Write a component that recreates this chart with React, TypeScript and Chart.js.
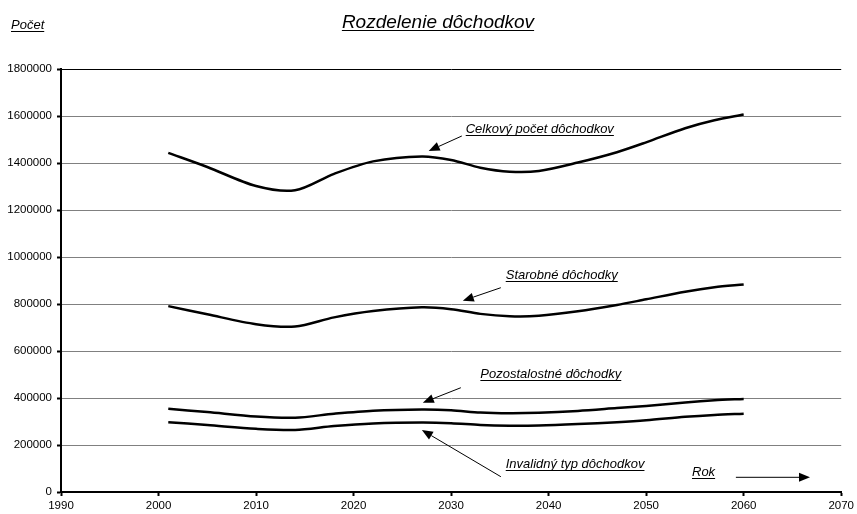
import React, { useEffect, useRef } from "react";
import { Chart, registerables } from "chart.js";

Chart.register(...registerables);

// Years sampled for every series
const years = [2001, 2005, 2010, 2014, 2018, 2022, 2027, 2030, 2033, 2036, 2039, 2043, 2047, 2050, 2054, 2057, 2060];

// Number of pensions by type
const celkovyPocet = [1443000, 1383000, 1302000, 1284000, 1354000, 1407000, 1428000, 1413000, 1380000, 1363000, 1366000, 1402000, 1446000, 1488000, 1548000, 1582000, 1606000];
const starobne = [791000, 756000, 714000, 704000, 743000, 770000, 786000, 778000, 758000, 748000, 750000, 769000, 796000, 820000, 852000, 871000, 883000];
const pozostalostne = [354000, 340000, 321000, 316000, 333000, 346000, 351000, 348000, 338000, 335000, 337000, 345000, 357000, 366000, 381000, 390000, 396000];
const invalidne = [297000, 285000, 269000, 264000, 281000, 292000, 296000, 293000, 285000, 282000, 283000, 289000, 297000, 305000, 320000, 328000, 333000];

const seriesNames = ["Celkový počet dôchodkov", "Starobné dôchodky", "Pozostalostné dôchodky", "Invalidný typ dôchodkov"];
const seriesValues = [celkovyPocet, starobne, pozostalostne, invalidne];

// Axis range and tick spacing
const xMin = 1990;
const xMax = 2070;
const xStep = 10;
const yMin = 0;
const yMax = 1800000;
const yStep = 200000;

const title = "Rozdelenie dôchodkov";
const yTitle = "Počet";
const xTitle = "Rok";

// Callout labels with arrows, placed in data coordinates: [year, value]
const callouts = [
  { text: seriesNames[0], at: [2031.5, 1527600], from: [2031.1, 1514900], to: [2027.7, 1451100] },
  { text: seriesNames[1], at: [2035.6, 906400], from: [2035.1, 869400], to: [2031.2, 814000] },
  { text: seriesNames[2], at: [2033.0, 485100], from: [2031.0, 443800], to: [2027.1, 380000] },
  { text: seriesNames[3], at: [2035.6, 102100], from: [2035.1, 65100], to: [2027.0, 263800] },
];
const xTitleAt = [2054.7, 68100];
const xArrow = { from: [2059.2, 62550], to: [2066.8, 62550] };

const FONT = "'Liberation Sans', Arial, sans-serif";

function underlinedText(ctx: CanvasRenderingContext2D, text: string, x: number, y: number, size: number, align: "left" | "center") {
  ctx.save();
  ctx.font = `italic ${size}px ${FONT}`;
  ctx.fillStyle = "#000";
  ctx.textAlign = align;
  ctx.textBaseline = "alphabetic";
  ctx.fillText(text, x, y);
  const w = ctx.measureText(text).width;
  const x0 = align === "center" ? x - w / 2 : x;
  ctx.strokeStyle = "#000";
  ctx.lineWidth = 1;
  ctx.beginPath();
  ctx.moveTo(x0, Math.round(y + 2) + 0.5);
  ctx.lineTo(x0 + w, Math.round(y + 2) + 0.5);
  ctx.stroke();
  ctx.restore();
}

function arrow(ctx: CanvasRenderingContext2D, x1: number, y1: number, x2: number, y2: number) {
  const ang = Math.atan2(y2 - y1, x2 - x1);
  const head = 11;
  const half = 4.5;
  const bx = x2 - head * Math.cos(ang);
  const by = y2 - head * Math.sin(ang);
  ctx.save();
  ctx.strokeStyle = "#000";
  ctx.fillStyle = "#000";
  ctx.lineWidth = 1;
  ctx.beginPath();
  ctx.moveTo(x1, y1);
  ctx.lineTo(bx, by);
  ctx.stroke();
  ctx.beginPath();
  ctx.moveTo(x2, y2);
  ctx.lineTo(bx + half * Math.sin(ang), by - half * Math.cos(ang));
  ctx.lineTo(bx - half * Math.sin(ang), by + half * Math.cos(ang));
  ctx.closePath();
  ctx.fill();
  ctx.restore();
}

const decorations = {
  id: "decorations",
  afterDraw(chart: any) {
    const ctx = chart.ctx as CanvasRenderingContext2D;
    const xs = chart.scales.x;
    const ys = chart.scales.y;
    const px = (p: number[]) => [xs.getPixelForValue(p[0]), ys.getPixelForValue(p[1])];

    underlinedText(ctx, title, 438, 28, 19, "center");
    underlinedText(ctx, yTitle, 11, 29, 13, "left");

    for (const c of callouts) {
      const [tx, ty] = px(c.at);
      underlinedText(ctx, c.text, tx, ty, 13, "left");
      const [fx, fy] = px(c.from);
      const [ex, ey] = px(c.to);
      arrow(ctx, fx, fy, ex, ey);
    }

    const [rx, ry] = px(xTitleAt);
    underlinedText(ctx, xTitle, rx, ry, 13, "left");
    const [ax1, ay1] = px(xArrow.from);
    const [ax2, ay2] = px(xArrow.to);
    arrow(ctx, ax1, ay1, ax2, ay2);
  },
};

export default function App() {
  const canvasRef = useRef<HTMLCanvasElement | null>(null);

  useEffect(() => {
    if (!canvasRef.current) return;
    const chart = new Chart(canvasRef.current, {
      type: "line",
      data: {
        datasets: seriesValues.map((vals, i) => ({
          label: seriesNames[i],
          data: years.map((yr, k) => ({ x: yr, y: vals[k] })),
          borderColor: "#000",
          borderWidth: 2.5,
          pointRadius: 0,
          tension: 0.3,
          fill: false,
        })),
      },
      options: {
        animation: false,
        responsive: false,
        devicePixelRatio: 1,
        layout: { padding: { top: 69, right: 14, left: 0, bottom: 0 } },
        plugins: {
          legend: { display: false },
          title: { display: false },
          tooltip: { enabled: false },
        },
        scales: {
          x: {
            type: "linear",
            min: xMin,
            max: xMax,
            afterFit: (s: any) => {
              s.height = 22;
            },
            ticks: {
              stepSize: xStep,
              color: "#000",
              font: { family: FONT, size: 11.5 },
              padding: 3,
              maxRotation: 0,
              callback: (v: any) => String(v),
            },
            grid: {
              drawOnChartArea: false,
              drawTicks: true,
              tickLength: 4,
              tickColor: "#000",
              tickWidth: 2,
            },
            border: { display: true, color: "#000", width: 2 },
          },
          y: {
            type: "linear",
            min: yMin,
            max: yMax,
            afterFit: (s: any) => {
              s.width = 61;
            },
            ticks: {
              stepSize: yStep,
              color: "#000",
              font: { family: FONT, size: 11.5 },
              padding: 5,
              callback: (v: any) => String(v),
            },
            grid: {
              color: (c: any) => (c.tick && c.tick.value === yMax ? "#000" : "#808080"),
              lineWidth: 1,
              drawTicks: true,
              tickLength: 4,
              tickColor: "#000",
              tickWidth: 2,
            },
            border: { display: true, color: "#000", width: 2 },
          },
        },
      },
      plugins: [decorations],
    });
    return () => chart.destroy();
  }, []);

  return (
    <div style={{ position: "absolute", left: 0, top: 0, width: 857, height: 514, background: "#fff" }}>
      <canvas ref={canvasRef} width={857} height={514} />
    </div>
  );
}
